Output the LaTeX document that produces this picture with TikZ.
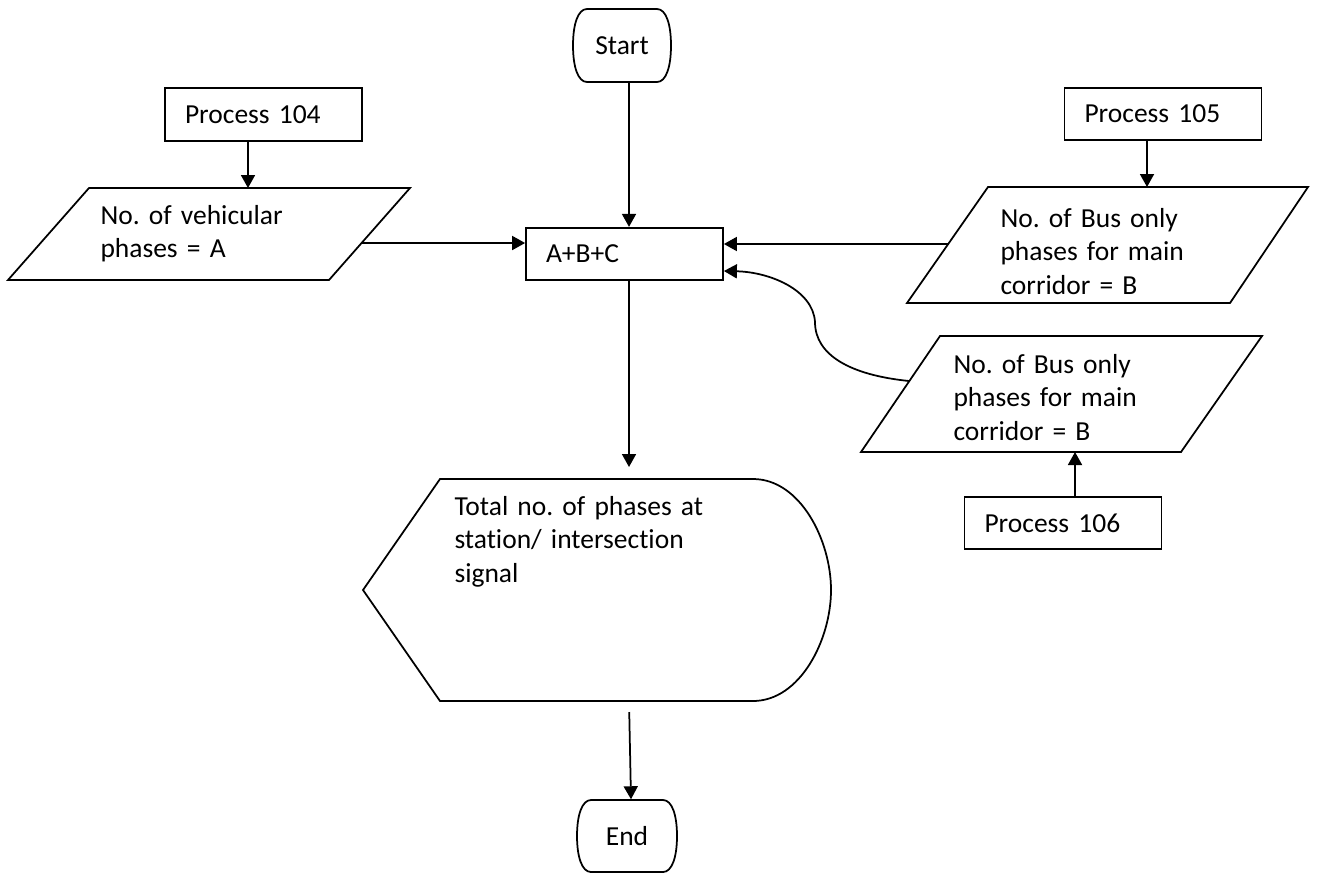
\documentclass[tikz,border=0pt]{standalone}
\usepackage{fontspec}
\setmainfont{Carlito}[Ligatures=NoCommon]
\usetikzlibrary{arrows.meta}
\frenchspacing
\begin{document}
\begin{tikzpicture}[x=0.4pt,y=-0.4pt,
  every node/.style={font=\fontsize{11pt}{13.4pt}\selectfont},
  line/.style={line width=0.7pt},
  arr/.style={line width=0.7pt,-{Triangle[length=5.2pt,width=5.6pt]}},
  procbox/.style={draw,line width=0.7pt,minimum width=78.8pt,minimum height=21pt,inner xsep=8pt,inner ysep=0pt,text width=62.8pt,align=left},
  txt/.style={anchor=base west,inner sep=0pt,align=left,text width=150pt},
  term/.style={inner sep=0pt,minimum width=39.2pt,minimum height=29pt}]
\useasboundingbox (0,0) rectangle (1317,874);

% Start terminal
\draw[line] (587,9) -- (657,9) .. controls (666,9) and (671,24) .. (671,45.5) .. controls (671,67) and (666,82) .. (657,82) -- (587,82) .. controls (578,82) and (573,67) .. (573,45.5) .. controls (573,24) and (578,9) .. cycle;
\node[term] (start) at (622,45.5) {Start};

% End terminal
\draw[line] (591,800) -- (663,800) .. controls (672,800) and (677,815) .. (677,836) .. controls (677,857) and (672,872) .. (663,872) -- (591,872) .. controls (582,872) and (577,857) .. (577,836) .. controls (577,815) and (582,800) .. cycle;
\node[term] (end) at (627,836) {End};

% Process boxes
\node[procbox] (p104) at (263.5,114.5) {Process 104};
\node[procbox] (p105) at (1163,114) {Process 105};
\node[procbox] (p106) at (1063,523) {Process 106};
\node[procbox] (abc) at (624.5,254) {A+B+C};

% Parallelogram A
\draw[line] (89,188) -- (410,188) -- (329,280) -- (8,280) -- cycle;
\coordinate (paT) at (248,188);
\coordinate (paR) at (362,243);
\node[txt] (pa) at (100,224) {No. of vehicular\\phases = A};

% Parallelogram B1
\draw[line] (988,187) -- (1308,187) -- (1230,303) -- (907,303) -- cycle;
\coordinate (b1T) at (1147,187);
\coordinate (b1L) at (948,244);
\node[txt] (b1) at (1000,227) {No. of Bus only\\phases for main\\corridor = B};

% Parallelogram B2
\draw[line] (940,336) -- (1262,336) -- (1181,452) -- (861,452) -- cycle;
\coordinate (b2B) at (1075,452);
\coordinate (b2L) at (909,381);
\node[txt] (b2) at (953,373) {No. of Bus only\\phases for main\\corridor = B};

% Display shape
\draw[line] (363,590) -- (440,479) -- (753,479) .. controls (800,479) and (831,540) .. (831,590) .. controls (831,640) and (800,701) .. (753,701) -- (440,701) -- cycle;
\coordinate (dT) at (629,479);
\coordinate (dB) at (629,701);
\node[txt] (disp) at (454,515) {Total no. of phases at\\station/ intersection\\signal};

% Connectors
\draw[arr] (start.south -| 629,0) -- (abc.north -| 629,0);
\draw[arr,shorten >=4.8pt] (abc.south -| 629,0) -- (dT);
\draw[arr,shorten <=4.4pt] (dB) -- (end.north -| 631,0);
\draw[arr] (p104.south -| 248,0) -- (paT);
\draw[arr] (paR) -- (abc.west |- paR);
\draw[arr] (p105.south -| 1147,0) -- (b1T);
\draw[arr] (b1L) -- (abc.east |- b1L);
\draw[arr] (p106.north -| 1075,0) -- (b2B);
\draw[arr] (b2L) .. controls (850,375) and (815,355) .. (815,322) .. controls (813,290) and (770,272) .. (abc.east |- 0,271);
\end{tikzpicture}
\end{document}
